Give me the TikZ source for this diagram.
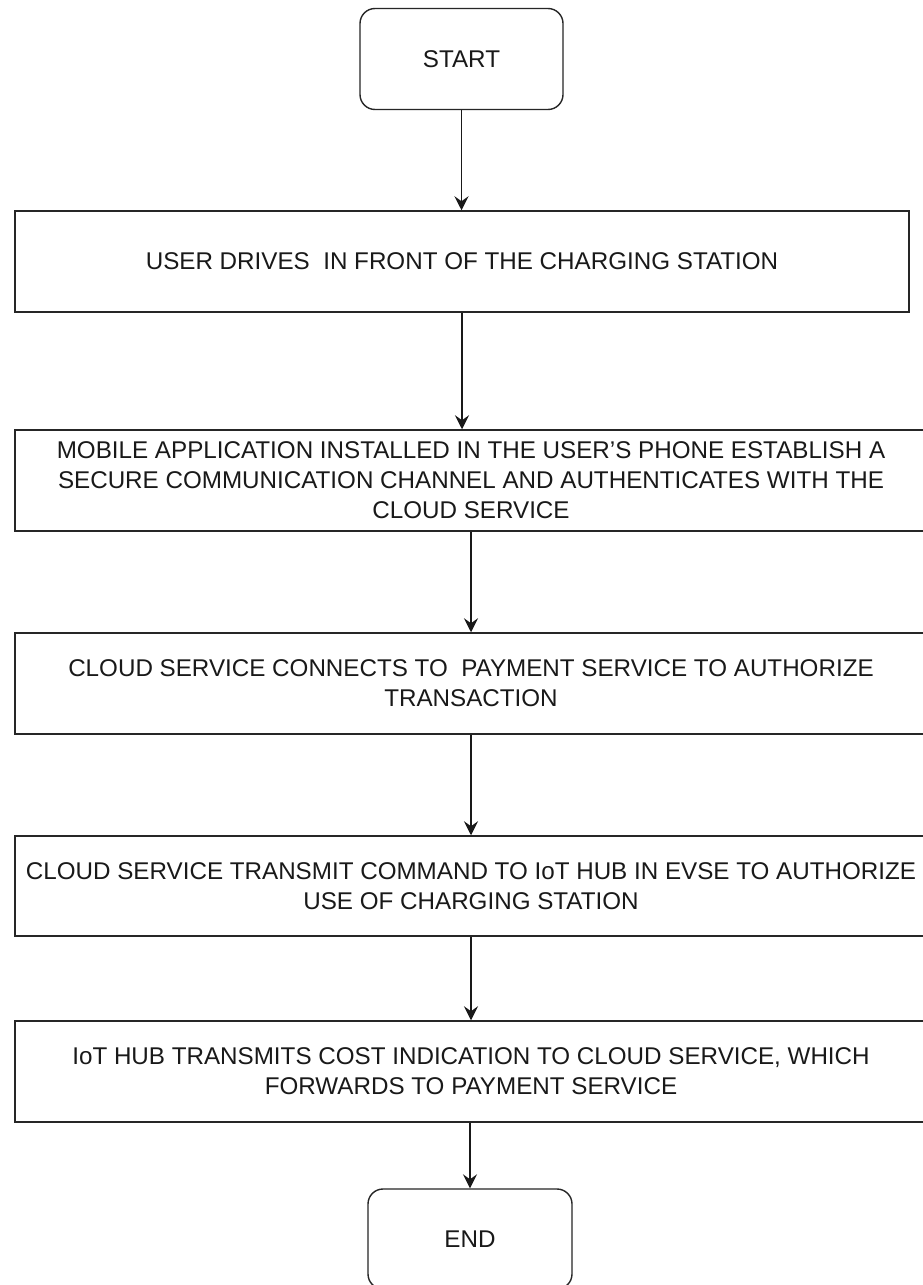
\documentclass[tikz,border=0pt]{standalone}
\usepackage{fontspec}
\setmainfont{Liberation Sans}
\usetikzlibrary{arrows.meta}
\begin{document}
\begin{tikzpicture}[x=1pt,y=-1pt,
  every node/.style={font=\fontsize{24.2}{30}\selectfont, text=black!90, inner sep=0pt, align=center},
  procbox/.style={draw=black!85, line width=1.5pt, rectangle, minimum width=#1, minimum height=101pt},
  termbox/.style={draw=black!85, line width=1.4pt, rectangle, rounded corners=15pt, minimum width=203pt, minimum height=101pt},
  arr/.style={draw=black!90, line width=1.4pt, -{Stealth[length=14pt,width=14pt,inset=5pt]}}
]
\useasboundingbox (0,0) rectangle (923,1285);
\clip (0,0) rectangle (923,1285);
\fill[white] (0,0) rectangle (923,1285);

\node[termbox] (start) at (461.5,59) {START};
\node[procbox=894pt] (b1) at (462,261.5) {USER DRIVES~ IN FRONT OF THE CHARGING STATION};
\node[procbox=912pt] (b2) at (471,480.5) {MOBILE APPLICATION INSTALLED IN THE USER'S PHONE ESTABLISH A\\SECURE COMMUNICATION CHANNEL AND AUTHENTICATES WITH THE\\CLOUD SERVICE};
\node[procbox=912pt] (b3) at (471,683.5) {CLOUD SERVICE CONNECTS TO~ PAYMENT SERVICE TO AUTHORIZE\\TRANSACTION};
\node[procbox=912pt, minimum height=100pt] (b4) at (471,886) {CLOUD SERVICE TRANSMIT COMMAND TO IoT HUB IN EVSE TO AUTHORIZE\\USE OF CHARGING STATION};
\node[procbox=912pt] (b5) at (471,1071.5) {IoT HUB TRANSMITS COST INDICATION TO CLOUD SERVICE, WHICH\\FORWARDS TO PAYMENT SERVICE};
\node[termbox, minimum width=204pt, minimum height=100pt] (end) at (470,1239) {END};

\draw[arr] (start.south) -- (start.south |- b1.north);
\draw[arr] (b1.south) -- (b1.south |- b2.north);
\draw[arr] (b2.south) -- (b3.north);
\draw[arr] (b3.south) -- (b4.north);
\draw[arr] (b4.south) -- (b5.north);
\draw[arr] (b5.south -| end.north) -- (end.north);
\end{tikzpicture}
\end{document}
